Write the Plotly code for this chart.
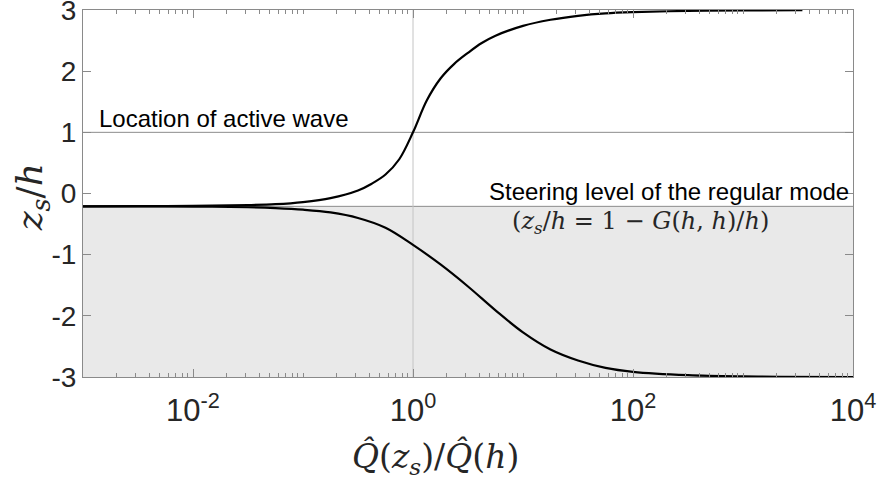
import plotly.graph_objects as go

# ---- data ----
upper_logx = [-3.0, -2.5, -2.0, -1.5, -1.25, -1.0, -0.75, -0.5, -0.375, -0.25, -0.125, 0.0,
              0.125, 0.25, 0.375, 0.5, 0.625, 0.75, 1.0, 1.25, 1.5, 1.75, 2.0, 2.5, 3.0, 3.54]
upper_z = [-0.21, -0.208, -0.203, -0.19, -0.175, -0.14, -0.075, 0.05, 0.16, 0.31, 0.56, 1.0,
           1.52, 1.88, 2.12, 2.30, 2.46, 2.58, 2.74, 2.84, 2.905, 2.945, 2.965, 2.985, 2.993, 2.997]

lower_logx = [-3.0, -2.5, -2.0, -1.5, -1.25, -1.0, -0.75, -0.5, -0.25, 0.0, 0.25, 0.5, 0.75,
              1.0, 1.25, 1.5, 1.75, 2.0, 2.5, 3.0, 4.0]
lower_z = [-0.21, -0.211, -0.214, -0.225, -0.24, -0.265, -0.31, -0.40, -0.56, -0.84, -1.16,
           -1.52, -1.91, -2.27, -2.55, -2.73, -2.85, -2.915, -2.97, -2.99, -3.0]

steering_level = -0.21
active_wave_level = 1.0
x_range_exp = [-3, 4]
y_range = [-3, 3]

x_tickvals = [1e-2, 1e0, 1e2, 1e4]
x_ticktext = ["10<sup>-2</sup>", "10<sup>0</sup>", "10<sup>2</sup>", "10<sup>4</sup>"]
y_tickvals = [-3, -2, -1, 0, 1, 2, 3]
y_ticktext = ["-3", "-2", "-1", "0", "1", "2", "3"]

upper_x = [10 ** v for v in upper_logx]
lower_x = [10 ** v for v in lower_logx]

minor_vals = [m * 10 ** e for e in range(x_range_exp[0], x_range_exp[1]) for m in range(2, 11)]
minor_vals = [v for v in minor_vals if not any(abs(v - t) / t < 1e-9 for t in x_tickvals)]

sans = "Liberation Sans, Arial, Helvetica, sans-serif"
serif = "DejaVu Serif, Liberation Serif, serif"
axis_grey = "#8a8a8a"
text_col = "#262626"

fig = go.Figure()

# shaded region below the steering level
fig.add_shape(type="rect", xref="paper", yref="y", x0=0, x1=1,
              y0=y_range[0], y1=steering_level,
              fillcolor="#e9e9e9", line=dict(width=0), layer="below")

# reference lines
fig.add_trace(go.Scatter(x=[10 ** x_range_exp[0], 10 ** x_range_exp[1]],
                         y=[active_wave_level, active_wave_level], mode="lines",
                         line=dict(color="#8c8c8c", width=1), hoverinfo="skip"))
fig.add_trace(go.Scatter(x=[10 ** x_range_exp[0], 10 ** x_range_exp[1]],
                         y=[steering_level, steering_level], mode="lines",
                         line=dict(color="#8c8c8c", width=1), hoverinfo="skip"))
fig.add_trace(go.Scatter(x=[1, 1], y=y_range, mode="lines",
                         line=dict(color="#c4c4c4", width=1), hoverinfo="skip"))

# curves
fig.add_trace(go.Scatter(x=upper_x, y=upper_z, mode="lines",
                         line=dict(color="black", width=2.2, shape="spline", smoothing=1.0)))
fig.add_trace(go.Scatter(x=lower_x, y=lower_z, mode="lines",
                         line=dict(color="black", width=2.2, shape="spline", smoothing=1.0)))

fig.update_layout(
    width=883, height=480,
    margin=dict(l=83, r=30, t=10, b=103),
    paper_bgcolor="white", plot_bgcolor="white",
    showlegend=False,
    font=dict(family=sans, color=text_col),
)

fig.update_xaxes(
    type="log", range=x_range_exp, automargin=False,
    tickmode="array", tickvals=x_tickvals, ticktext=x_ticktext,
    tickfont=dict(family=sans, size=31, color=text_col),
    ticks="inside", ticklen=8, tickcolor=axis_grey, tickwidth=1,
    minor=dict(ticks="inside", ticklen=4, tickcolor=axis_grey, tickmode="array",
               tickvals=minor_vals, showgrid=False),
    showline=True, linecolor=axis_grey, linewidth=1, mirror="ticks",
    showgrid=False, zeroline=False, ticklabelstandoff=6, ticklabeloverflow="allow",
)
fig.update_yaxes(
    range=y_range, automargin=False,
    tickmode="array", tickvals=y_tickvals, ticktext=y_ticktext,
    tickfont=dict(family=sans, size=28, color=text_col),
    ticks="inside", ticklen=8, tickcolor=axis_grey, tickwidth=1,
    showline=True, linecolor=axis_grey, linewidth=1, mirror="ticks",
    showgrid=False, zeroline=False, ticklabelstandoff=0, ticklabeloverflow="allow",
)

# axis titles (as annotations for exact placement)
fig.add_annotation(text="<i>Q̂</i>(<i>z<sub>s</sub></i>)/<i>Q̂</i>(<i>h</i>)",
                   xref="paper", yref="paper", x=0.4577, y=-0.2207,
                   xanchor="center", yanchor="middle", showarrow=False,
                   font=dict(family=serif, size=33, color=text_col))
fig.add_annotation(text="<i>z<sub>s</sub></i>/<i>h</i>",
                   xref="paper", yref="paper", x=-0.066, y=0.49,
                   xanchor="center", yanchor="middle", showarrow=False, textangle=-90,
                   font=dict(family=serif, size=36, color=text_col))

# text labels
fig.add_annotation(text="Location of active wave",
                   xref="paper", yref="paper", x=0.0182, y=0.7057,
                   xanchor="left", yanchor="middle", showarrow=False,
                   font=dict(family=sans, size=24, color="black"))
fig.add_annotation(text="Steering level of the regular mode",
                   xref="paper", yref="paper", x=0.998, y=0.5054,
                   xanchor="right", yanchor="middle", showarrow=False,
                   font=dict(family=sans, size=24, color="black"))
fig.add_annotation(text="(<i>z<sub>s</sub></i>/<i>h</i> = 1 − <i>G</i>(<i>h</i>, <i>h</i>)/<i>h</i>)",
                   xref="paper", yref="paper", x=0.724, y=0.4223,
                   xanchor="center", yanchor="middle", showarrow=False,
                   font=dict(family=serif, size=24, color=text_col))

fig.write_html("out.html")
